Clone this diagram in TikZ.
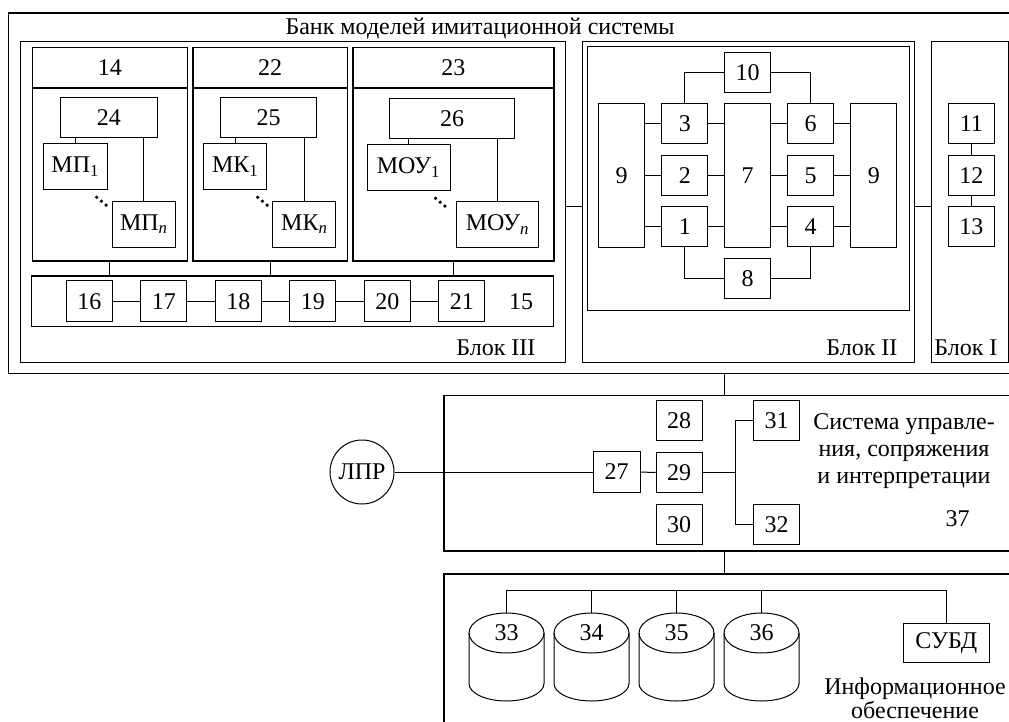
\documentclass[tikz,border=0pt]{standalone}
\usepackage{fontspec}
\setmainfont{Liberation Serif}
\usetikzlibrary{calc,positioning}

\begin{document}
\begin{tikzpicture}[
  x=1pt, y=-1pt,
  font=\fontsize{24}{26.7}\selectfont,
  frame/.style={draw, line width=1.3pt, inner sep=0pt},
  box/.style={draw, line width=1pt, inner sep=0pt, minimum width=46pt, minimum height=40pt},
  wire/.style={line width=1pt},
  dot/.style={circle, fill, inner sep=0pt, minimum size=3.6pt},
  dbcyl/.pic={
    \draw[line width=1pt] (-37.5,-24) -- (-37.5,26.5)
      arc[start angle=180, end angle=0, x radius=37.5, y radius=17.5] -- (37.5,-24);
    \draw[line width=1pt] (0,-24) ellipse [x radius=37.5, y radius=20];
    \coordinate (-top) at (0,-44);
    \coordinate (-lid) at (0,-24);
  }
]
\useasboundingbox (0,0) rectangle (1009,722);
\clip (0,0) rectangle (1009,722);

% ---- Bank of models: outer frame and three blocks ----
\node[frame, anchor=north west, minimum width=1030pt, minimum height=360pt] (bank) at (8,12.5) {};
\node[anchor=base] (banktitle) at (480,35) {Банк моделей имитационной системы};

\node[frame, anchor=north west, minimum width=545pt, minimum height=321pt] (blk3) at (20,41) {};
\node[frame, anchor=north west, minimum width=332pt, minimum height=321pt] (blk2) at (582,41) {};
\node[frame, anchor=north west, minimum width=77pt, minimum height=321pt] (blk1) at (931,41) {};
\node[anchor=base east] (lbl3) at (539,355) {Блок III};
\node[anchor=base east] (lbl2) at (901,355) {Блок II};
\node[anchor=base east] (lbl1) at (1001,355) {Блок I};

% ---- Block III: model groups 14, 22, 23 ----
\node[frame, anchor=north west, minimum width=155pt, minimum height=40pt] (h14) at (31.7,46.7) {14};
\node[frame, anchor=north, minimum width=155pt, minimum height=172.3pt] (m14) at (h14.south) {};
\node[frame, anchor=north west, minimum width=154.4pt, minimum height=40pt] (h22) at (192.3,46.7) {22};
\node[frame, anchor=north, minimum width=154.4pt, minimum height=172.3pt] (m22) at (h22.south) {};
\node[frame, anchor=north west, minimum width=201pt, minimum height=40pt] (h23) at (352.3,46.7) {23};
\node[frame, anchor=north, minimum width=201pt, minimum height=172.3pt] (m23) at (h23.south) {};

\node[box, minimum width=97pt] (b24) at (108.8,118) {24};
\node[box, minimum width=64pt, minimum height=46pt] (mp1) at (75.2,167) {МП\textsubscript{1}};
\node[box, minimum width=63pt, minimum height=46pt] (mpn) at (143.8,224.2) {МП\textsubscript{\itshape n}};

\node[box, minimum width=96.4pt] (b25) at (268.5,118) {25};
\node[box, minimum width=63pt, minimum height=46pt] (mk1) at (235.2,167) {МК\textsubscript{1}};
\node[box, minimum width=63.3pt, minimum height=46pt] (mkn) at (304.3,224.2) {МК\textsubscript{\itshape n}};

\node[box, minimum width=125.4pt] (b26) at (452,118.3) {26};
\node[box, minimum width=83pt, minimum height=46pt] (mou1) at (408.5,167.2) {МОУ\textsubscript{1}};
\node[box, minimum width=81.6pt, minimum height=46pt] (moun) at (497.5,224.3) {МОУ\textsubscript{\itshape n}};

% diagonal dots between first and n-th model
\foreach \g/\x/\y in {14/96.7/197.3, 22/257.7/197.3, 23/435.5/198.3}
  \foreach \d in {0,1,2}
    \node[dot] (dot\g-\d) at (\x+4.7*\d,\y+3.9*\d) {};

\draw[wire] (mp1.north) -- (mp1.north |- b24.south);
\draw[wire] (mpn.north) -- (mpn.north |- b24.south);
\draw[wire] (mk1.north) -- (mk1.north |- b25.south);
\draw[wire] (mkn.north) -- (mkn.north |- b25.south);
\draw[wire] (mou1.north) -- (mou1.north |- b26.south);
\draw[wire] (moun.north) -- (moun.north |- b26.south);

% bus 15 with units 16-21
\node[frame, minimum width=521.6pt, minimum height=50.7pt] (bus15) at (292.5,301.3) {};
\node (n15) at (521,301.3) {15};
\foreach \i [count=\k from 0] in {16,...,21}
  \node[box, minimum height=41pt] (b\i) at (89.3+74.5*\k,301.3) {\i};
\foreach \i [evaluate=\i as \j using int(\i+1)] in {16,...,20}
  \draw[wire] (b\i) -- (b\j);
\foreach \m in {m14,m22,m23}
  \draw[wire] (\m.south) -- (\m.south |- bus15.north);

% ---- Block II ----
\node[frame, anchor=north west, minimum width=322pt, minimum height=264pt] (core) at (586.7,46) {};
\node[box, minimum height=143pt] (b9l) at (621.5,175.5) {9};
\node[box, minimum height=143pt] (b7) at (747.5,175.5) {7};
\node[box, minimum height=143pt] (b9r) at (873.8,175.5) {9};
\node[box] (b3) at (684.8,123.8) {3};
\node[box] (b2) at (684.8,175.3) {2};
\node[box] (b1) at (684.8,226.8) {1};
\node[box] (b6) at (810.7,123.8) {6};
\node[box] (b5) at (810.7,175.3) {5};
\node[box] (b4) at (810.7,226.8) {4};
\node[box] (b10) at (747.5,72.3) {10};
\node[box] (b8) at (747.5,278.5) {8};

\foreach \r in {1,2,3} {
  \draw[wire] (b\r) -- (b\r -| b9l.east);
  \draw[wire] (b\r) -- (b\r -| b7.west);
}
\foreach \r in {4,5,6} {
  \draw[wire] (b\r) -- (b\r -| b7.east);
  \draw[wire] (b\r) -- (b\r -| b9r.west);
}
\draw[wire] (b10.west) -| (b3.north);
\draw[wire] (b10.east) -| (b6.north);
\draw[wire] (b1.south) |- (b8.west);
\draw[wire] (b4.south) |- (b8.east);

% ---- Block I ----
\node[box] (b11) at (971.3,123.8) {11};
\node[box] (b12) at (971.3,175.3) {12};
\node[box] (b13) at (971.3,226.8) {13};
\draw[wire] (b11) -- (b12) (b12) -- (b13);

\coordinate (link) at (0,206.7);
\draw[wire] (blk3.east |- link) -- (blk2.west |- link);
\draw[wire] (blk2.east |- link) -- (blk1.west |- link);

% ---- Control, interfacing and interpretation system 37 ----
\node[frame, anchor=north west, minimum width=600pt, minimum height=155.3pt] (ctrl) at (443.3,395) {};
\node[frame, anchor=north west, minimum width=600pt, minimum height=200pt] (info) at (443.3,573.3) {};
\coordinate (trunk) at (724.7,0);
\draw[wire] (trunk |- bank.south) -- (trunk |- ctrl.north);
\draw[wire] (trunk |- ctrl.south) -- (trunk |- info.north);

\node[draw, circle, line width=1pt, minimum size=64pt, inner sep=0pt] (lpr) at (362,472) {ЛПР};
\node[box, minimum width=47pt, minimum height=41pt] (b27) at (616.5,472) {27};
\node[box] (b28) at (679,420.8) {28};
\node[box] (b29) at (679,472.5) {29};
\node[box] (b30) at (679,524.2) {30};
\node[box] (b31) at (776.6,420.8) {31};
\node[box] (b32) at (776.6,524.2) {32};
\coordinate (fork) at (735.8,472.5);

\draw[wire] (lpr) -- (b27);
\draw[wire] (b27) -- (b29);
\draw[wire] (b29) -- (fork);
\draw[wire] (fork) |- (b31.west);
\draw[wire] (fork) |- (b32.west);

\node[align=center, anchor=base] (ctrltxt) at (904,483.3) {Система управле-\\ния, сопряжения\\и интерпретации};
\node[anchor=base] (n37) at (957.6,526.7) {37};

% ---- Information support ----
\coordinate (dbbus) at (0,590);
\foreach \i [count=\k from 0] in {33,...,36} {
  \pic (d\i) at (506.5+85*\k,657) {dbcyl};
  \node (n\i) at (d\i-lid) {\i};
  \draw[wire] (d\i-top) -- (d\i-top |- dbbus);
}
\node[box, minimum width=86.5pt, minimum height=38.7pt] (dbms) at (946.3,643.3) {СУБД};
\draw[wire] (d33-top |- dbbus) -- (dbms.north |- dbbus) -- (dbms.north);
\node[align=center, anchor=base, font=\fontsize{24}{22}\selectfont] (infotxt) at (915,718) {Информационное\\обеспечение};

\end{tikzpicture}
\end{document}
